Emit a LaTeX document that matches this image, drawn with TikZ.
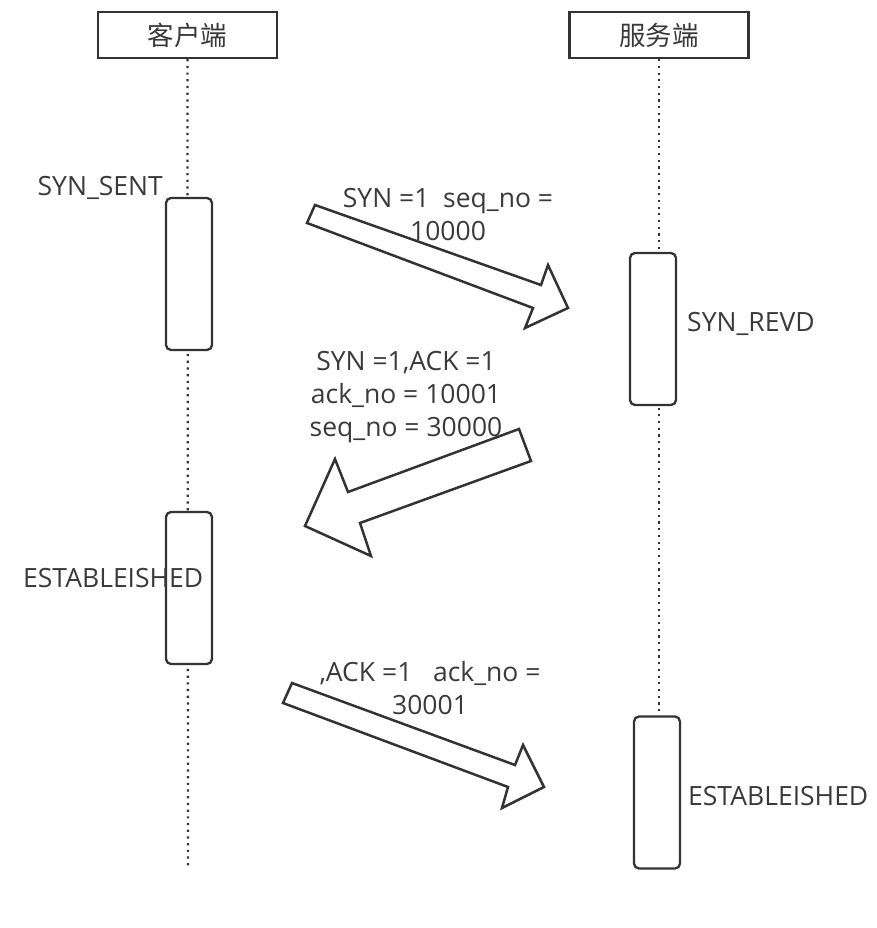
\documentclass[tikz,border=0pt]{standalone}
\usepackage{fontspec}
\setmainfont{Open Sans}
\newfontfamily\cjk{Noto Sans CJK SC}
\definecolor{ink}{HTML}{333333}
\definecolor{txt}{HTML}{3A3A3A}
\begin{document}
\begin{tikzpicture}[x=1pt,y=-1pt,
  hdr/.style={draw=ink, line width=2.3pt, fill=white, minimum width=179pt, minimum height=46pt, inner sep=0pt, font=\cjk\fontsize{26.5}{30}\selectfont, text=txt},
  act/.style={draw=ink, line width=2.3pt, fill=white, rounded corners=5pt, minimum width=46pt, minimum height=152pt, inner sep=0pt},
  life/.style={draw=ink, line width=2.3pt, dash pattern=on 2.2pt off 4.5pt},
  blk/.style={draw=ink, line width=2.5pt, line join=miter, fill=white},
  lbl/.style={inner sep=0pt, text=txt, font=\fontsize{26.5}{33}\selectfont},
  msg/.style={lbl, align=center}]
\useasboundingbox (0,0) rectangle (876,928);
% headers
\node[hdr] (ch) at (187.5,35) {客户端};
\node[hdr] (sh) at (659,35) {服务端};
% lifeline end points
\coordinate (cend) at (188,868);
\coordinate (send) at (657,717);
\draw[life] (ch.south) -- (cend);
\draw[life] (sh.south) -- (sh.south |- send);
% activation boxes
\node[act] (ca1) at (189,274) {};
\node[act] (sa1) at (653,329) {};
\node[act] (ca2) at (189,588) {};
\node[act] (sa2) at (657,792.5) {};
% block arrows
\draw[blk] (315,205) -- (541,285) -- (548,265) -- (568,308) -- (525,328) -- (533,308) -- (307,223) -- cycle;
\draw[blk] (519,429) -- (531,461) -- (360,523) -- (371,556) -- (305,526) -- (335,459) -- (348,492) -- cycle;
\draw[blk] (292,683) -- (515,765) -- (523,745) -- (544,787) -- (502,808) -- (508,787) -- (283,703) -- cycle;
% state labels
\node[lbl, anchor=base east] (s1) at (163,195) {SYN\_SENT};
\node[lbl, anchor=base west] (s2) at (687,331) {SYN\_REVD};
\node[lbl, anchor=base west] (s3) at (23,587) {ESTABLEISHED};
\node[lbl, anchor=base west] (s4) at (688,805) {ESTABLEISHED};
% message labels
\node[msg] (m1) at (448,215) {SYN =1\ \ seq\_no =\\10000};
\node[msg] (m2) at (406,397) {SYN =1,ACK =1\\ack\_no = 10001\\seq\_no = 30000};
\node[msg] (m3) at (430,688) {,ACK =1\ \ \ ack\_no =\\30001};
\end{tikzpicture}
\end{document}
